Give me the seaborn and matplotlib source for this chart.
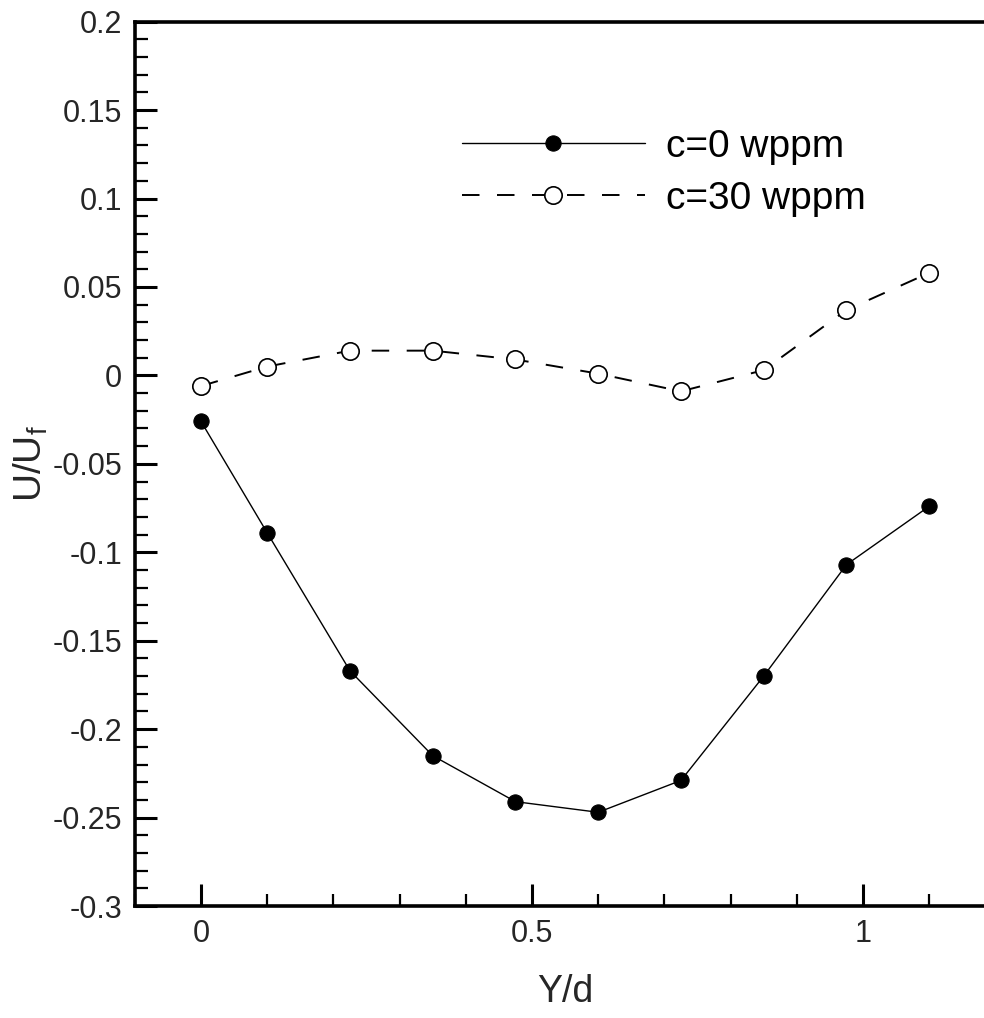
import numpy as np
import pandas as pd
import seaborn as sns
import matplotlib
matplotlib.use("Agg")
import matplotlib.pyplot as plt
from matplotlib.ticker import MultipleLocator, FuncFormatter

# Streamwise velocity profiles across the gap
y_over_d = [0.0, 0.1, 0.225, 0.35, 0.475, 0.6, 0.725, 0.85, 0.975, 1.1]
u_c0 = [-0.026, -0.089, -0.167, -0.215, -0.241, -0.247, -0.229, -0.170, -0.107, -0.074]
u_c30 = [-0.006, 0.005, 0.014, 0.014, 0.009, 0.001, -0.009, 0.003, 0.037, 0.058]
series_names = ["c=0 wppm", "c=30 wppm"]

sns.set_theme(style="ticks")
plt.rcParams["font.family"] = ["Liberation Sans", "DejaVu Sans"]

fig = plt.figure(figsize=(9.84, 10.18), dpi=100)
ax = fig.add_axes([0.137, 0.110, 0.8746, 0.8687])

df0 = pd.DataFrame({"Y/d": y_over_d, "U": u_c0})
df30 = pd.DataFrame({"Y/d": y_over_d, "U": u_c30})

sns.lineplot(data=df0, x="Y/d", y="U", ax=ax, color="black", lw=1.0,
             marker="o", markersize=11, markerfacecolor="black",
             markeredgecolor="black", label=series_names[0])
sns.lineplot(data=df30, x="Y/d", y="U", ax=ax, color="black", lw=1.4,
             marker="o", markersize=12.5, markerfacecolor="white",
             markeredgecolor="black", markeredgewidth=1.2,
             label=series_names[1])
ax.lines[1].set_dashes((9, 9))

ax.set_xlim(-0.1, 1.2)
ax.set_ylim(-0.3, 0.2)

ax.xaxis.set_major_locator(MultipleLocator(0.5))
ax.xaxis.set_minor_locator(MultipleLocator(0.1))
ax.yaxis.set_major_locator(MultipleLocator(0.05))
ax.yaxis.set_minor_locator(MultipleLocator(0.01))

def fmt(v, pos):
    s = f"{v:.2f}".rstrip("0").rstrip(".")
    if s in ("-0", "0.0"):
        s = "0"
    return s

ax.xaxis.set_major_formatter(FuncFormatter(fmt))
ax.yaxis.set_major_formatter(FuncFormatter(fmt))

ax.tick_params(axis="both", which="major", direction="in", length=16,
               width=2.2, color="black", labelsize=22, pad=9)
ax.tick_params(axis="both", which="minor", direction="in", length=9,
               width=1.6, color="black")
ax.tick_params(top=False, right=False, which="both")

for side in ["left", "bottom", "top", "right"]:
    ax.spines[side].set_linewidth(2.6)
    ax.spines[side].set_color("black")

ax.set_xlabel("Y/d", fontsize=27, labelpad=18)
ax.set_ylabel("U/U$_\\mathregular{f}$", fontsize=28, labelpad=2)

leg = ax.legend(loc="upper left", bbox_to_anchor=(0.38, 0.879), frameon=False,
                fontsize=28, handlelength=4.7, handletextpad=0.56,
                labelspacing=0.42, numpoints=1, borderaxespad=0, borderpad=0)
for t in leg.get_texts():
    t.set_color("black")

fig.savefig("out.png", dpi=100, facecolor="white")
